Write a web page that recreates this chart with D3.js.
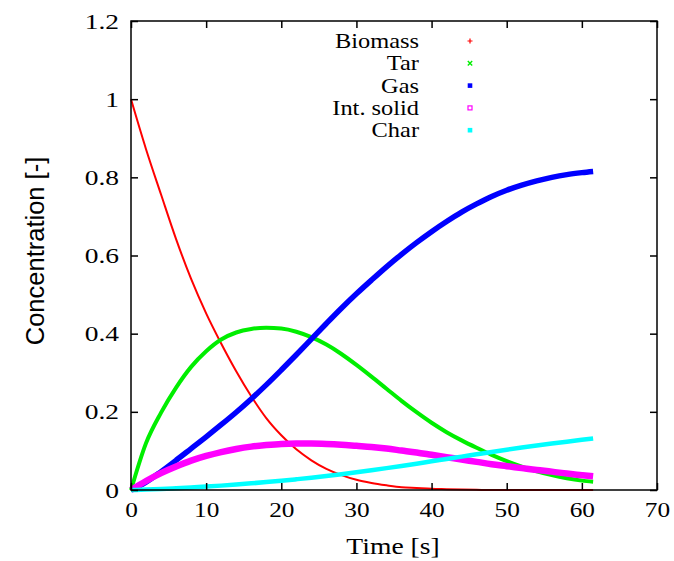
<!DOCTYPE html>
<html>
<head>
<meta charset="utf-8">
<script src="https://cdn.jsdelivr.net/npm/d3@7"></script>
<style>
  html, body { margin: 0; padding: 0; background: #fff; }
  svg { display: block; }
</style>
</head>
<body>
<svg id="chart" width="674" height="561"></svg>
<script>
// ---- data ----
const time = [0, 2, 4, 6, 8, 10, 12, 14, 16, 18, 20, 22, 24, 26, 28, 30, 32, 34, 36, 38, 40, 42, 44, 46, 48, 50, 52, 54, 56, 58, 60, 61.5];
const biomass = [1.0, 0.872, 0.756, 0.642, 0.54, 0.452, 0.375, 0.304, 0.24, 0.184, 0.14, 0.104, 0.076, 0.054, 0.038, 0.026, 0.018, 0.012, 0.007, 0.005, 0.003, 0.002, 0.001, 0.0005, 0, 0, 0, 0, 0, 0, 0, 0];
const tar = [0, 0.12, 0.198, 0.262, 0.315, 0.355, 0.385, 0.403, 0.412, 0.415, 0.413, 0.405, 0.391, 0.372, 0.348, 0.32, 0.29, 0.259, 0.228, 0.199, 0.172, 0.148, 0.127, 0.108, 0.09, 0.074, 0.06, 0.048, 0.038, 0.03, 0.024, 0.021];
const gas = [0, 0.02, 0.047, 0.076, 0.106, 0.136, 0.167, 0.199, 0.233, 0.269, 0.307, 0.346, 0.386, 0.426, 0.465, 0.502, 0.537, 0.571, 0.603, 0.633, 0.661, 0.687, 0.711, 0.732, 0.751, 0.767, 0.78, 0.791, 0.8, 0.807, 0.812, 0.815];
const intSolid = [0, 0.023, 0.043, 0.06, 0.075, 0.087, 0.097, 0.105, 0.111, 0.115, 0.118, 0.119, 0.119, 0.118, 0.116, 0.113, 0.11, 0.106, 0.101, 0.096, 0.09, 0.084, 0.078, 0.072, 0.066, 0.061, 0.056, 0.051, 0.047, 0.042, 0.038, 0.035];
const charV = [0, 0.001, 0.0025, 0.0045, 0.0065, 0.0087, 0.0112, 0.014, 0.017, 0.0202, 0.0237, 0.0275, 0.0315, 0.0358, 0.0404, 0.0454, 0.0506, 0.056, 0.0616, 0.0674, 0.0734, 0.0794, 0.0854, 0.0914, 0.0974, 0.1032, 0.1087, 0.1139, 0.1189, 0.1237, 0.1283, 0.1318];

const seriesNames = ["Biomass", "Tar", "Gas", "Int. solid", "Char"];
const seriesColors = ["#ff0000", "#00ee00", "#0000ff", "#ff00ff", "#00ffff"];
const xTicks = [0, 10, 20, 30, 40, 50, 60, 70];
const xTickLabels = ["0", "10", "20", "30", "40", "50", "60", "70"];
const yTicks = [0, 0.2, 0.4, 0.6, 0.8, 1, 1.2];
const yTickLabels = ["0", "0.2", "0.4", "0.6", "0.8", "1", "1.2"];
const xTitle = "Time [s]";
const yTitle = "Concentration [-]";

// ---- layout ----
const seriesValues = [biomass, tar, gas, intSolid, charV];
const lineWidths = [2, 4, 5.5, 6.5, 4.5];
const plot = { left: 131, right: 657, top: 21, bottom: 490 };

const svg = d3.select("#chart");
const x = d3.scaleLinear().domain([0, 70]).range([plot.left, plot.right]);
const y = d3.scaleLinear().domain([0, 1.2]).range([plot.bottom, plot.top]);

const serif = "'Liberation Serif', 'Times New Roman', serif";
const sans = "'Liberation Sans', Arial, sans-serif";

svg.append("defs").append("clipPath").attr("id", "clip")
  .append("rect").attr("x", plot.left - 6).attr("y", plot.top).attr("width", plot.right - plot.left + 6).attr("height", plot.bottom - plot.top + 6);

// series lines
const line = d3.line().curve(d3.curveMonotoneX);
const gLines = svg.append("g").attr("clip-path", "url(#clip)");
seriesValues.forEach((vals, i) => {
  const pts = time.map((t, k) => [x(t), y(vals[k])]);
  gLines.append("path")
    .attr("d", line(pts))
    .attr("fill", "none")
    .attr("stroke", seriesColors[i])
    .attr("stroke-width", lineWidths[i])
    .attr("stroke-linejoin", "round");
});

// axes (ticks inward, mirrored)
const tickLen = 7;
function styleAxis(g) {
  g.select(".domain").remove();
  g.selectAll(".tick line").attr("stroke", "#000").attr("stroke-width", 1.5);
}
const axB = svg.append("g").attr("transform", `translate(0,${plot.bottom})`)
  .call(d3.axisBottom(x).tickValues(xTicks).tickSize(-tickLen).tickPadding(11)
    .tickFormat((d, i) => xTickLabels[i]));
styleAxis(axB);
axB.selectAll(".tick text").attr("font-family", serif).attr("font-size", 22).attr("fill", "#000")
  .attr("transform", "scale(1.15,1)");

const axT = svg.append("g").attr("transform", `translate(0,${plot.top})`)
  .call(d3.axisTop(x).tickValues(xTicks).tickSize(-tickLen).tickFormat(""));
styleAxis(axT);

const axL = svg.append("g").attr("transform", `translate(${plot.left},0)`)
  .call(d3.axisLeft(y).tickValues(yTicks).tickSize(-tickLen).tickPadding(12)
    .tickFormat((d, i) => yTickLabels[i]));
styleAxis(axL);
axL.selectAll(".tick text").attr("font-family", serif).attr("font-size", 22).attr("fill", "#000")
  .attr("transform", "scale(1.25,1)").attr("x", -12 / 1.25);

const axR = svg.append("g").attr("transform", `translate(${plot.right},0)`)
  .call(d3.axisRight(y).tickValues(yTicks).tickSize(-tickLen).tickFormat(""));
styleAxis(axR);

// frame
svg.append("rect")
  .attr("x", plot.left).attr("y", plot.top)
  .attr("width", plot.right - plot.left).attr("height", plot.bottom - plot.top)
  .attr("fill", "none").attr("stroke", "#000").attr("stroke-width", 1.5);

// axis titles
svg.append("text")
  .attr("transform", `translate(${(plot.left + plot.right) / 2 - 1},554) scale(1.15,1)`)
  .attr("text-anchor", "middle")
  .attr("font-family", serif).attr("font-size", 24).attr("fill", "#000")
  .text(xTitle);

svg.append("text")
  .attr("transform", `translate(44,251) rotate(-90)`)
  .attr("text-anchor", "middle")
  .attr("font-family", sans).attr("font-size", 25.5).attr("fill", "#000")
  .text(yTitle);

// legend
const legendY0 = 41, legendDy = 22.3;
const legend = svg.append("g");
seriesNames.forEach((name, i) => {
  const ly = legendY0 + i * legendDy;
  legend.append("text")
    .attr("transform", `translate(419,${ly + 7}) scale(1.22,1)`)
    .attr("text-anchor", "end")
    .attr("font-family", serif).attr("font-size", 20).attr("fill", "#000")
    .text(name);
  const mx = 470, c = seriesColors[i];
  const m = legend.append("g").attr("transform", `translate(${mx},${ly})`);
  if (i === 0) {
    m.append("path").attr("d", "M-2.5,0H2.5M0,-2.5V2.5").attr("stroke", c).attr("stroke-width", 1.2);
  } else if (i === 1) {
    m.append("path").attr("d", "M-2.2,-2.2L2.2,2.2M-2.2,2.2L2.2,-2.2").attr("stroke", c).attr("stroke-width", 1.4);
  } else if (i === 3) {
    m.append("rect").attr("x", -2).attr("y", -2).attr("width", 4).attr("height", 4)
      .attr("fill", "none").attr("stroke", c).attr("stroke-width", 1.2);
  } else {
    m.append("rect").attr("x", -2.3).attr("y", -2.3).attr("width", 4.6).attr("height", 4.6).attr("fill", c);
  }
});
</script>
</body>
</html>
